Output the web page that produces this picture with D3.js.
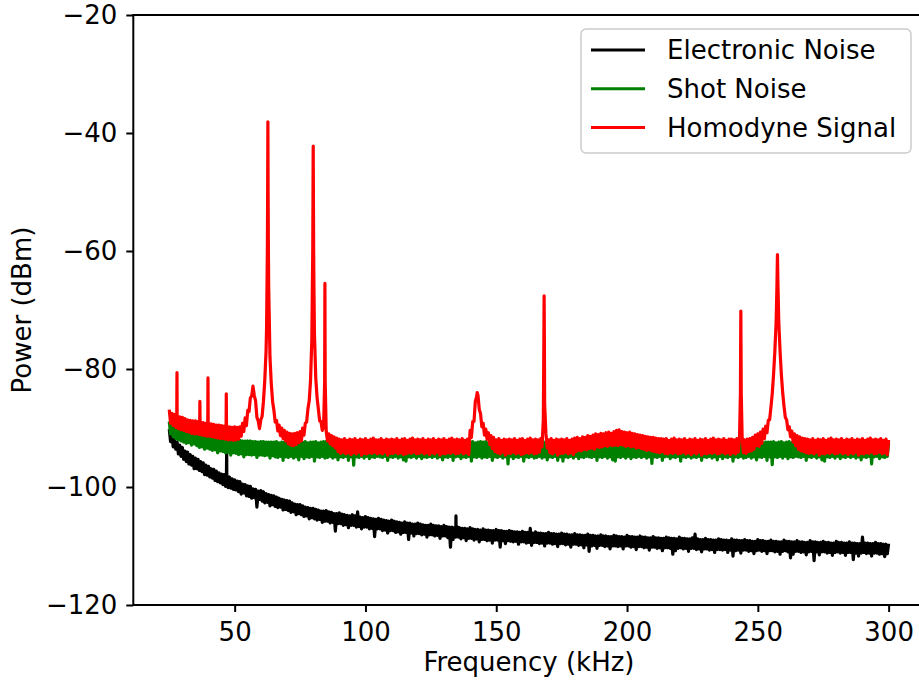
<!DOCTYPE html>
<html>
<head>
<meta charset="utf-8">
<script src="https://cdn.jsdelivr.net/npm/d3@7"></script>
<style>
  body { margin: 0; background: #fff; }
  svg { display: block; }
  text { font-family: "DejaVu Sans", sans-serif; fill: #000; }
</style>
</head>
<body>
<svg id="chart" width="919" height="682"></svg>
<script>
// Spectrum analyser sweep: 25-300 kHz in 0.5 kHz bins, plus extra samples across narrow lines
const freqStart = 25, freqEnd = 300, freqStep = 0.5;
const xTicks = [50, 100, 150, 200, 250, 300];
const yTicks = [-120, -100, -80, -60, -40, -20];
const seriesNames = ["Electronic Noise", "Shot Noise", "Homodyne Signal"];
const seriesColors = ["#000000", "#008000", "#ff0000"];

// dBm per bin, each row covers 5 kHz
const electronic = [
  -90.2, -92.3, -91.0, -93.2, -91.9, -93.6, -92.4, -94.4, -92.9, -94.8,        // 25
  -93.3, -95.3, -93.9, -95.7, -94.1, -96.1, -94.5, -96.3, -94.8, -96.9,        // 30
  -95.1, -96.9, -95.3, -97.2, -95.7, -97.4, -95.9, -97.9, -96.3, -98.0,        // 35
  -96.5, -98.3, -96.9, -98.5, -97.0, -98.9, -97.3, -99.1, -97.6, -99.3,        // 40
  -97.8, -99.6, -97.9, -99.9, -98.2, -100.1, -98.3, -100.2, -98.6, -100.4,     // 45
  -98.8, -100.5, -99.0, -100.8, -99.1, -101.2, -99.5, -101.0, -99.6, -101.5,   // 50
  -99.8, -101.6, -99.9, -101.9, -100.3, -101.8, -100.4, -103.4, -100.7, -102.1, // 55
  -100.6, -102.4, -100.8, -102.7, -101.1, -102.6, -101.3, -103.2, -101.4, -103.0, // 60
  -101.5, -103.3, -101.7, -103.5, -101.9, -103.4, -102.1, -103.9, -102.2, -103.8, // 65
  -102.3, -104.0, -102.4, -104.3, -102.7, -104.2, -102.9, -104.7, -103.0, -104.5, // 70
  -103.0, -104.7, -103.2, -105.0, -103.4, -104.9, -103.5, -105.4, -103.6, -105.2, // 75
  -103.6, -105.4, -103.8, -105.6, -103.9, -105.5, -104.1, -106.0, -104.1, -105.8, // 80
  -104.0, -105.8, -104.2, -106.1, -104.3, -106.0, -104.5, -107.5, -104.5, -106.2, // 85
  -104.4, -106.2, -104.6, -106.5, -104.7, -106.4, -104.8, -106.9, -104.9, -106.5, // 90
  -104.7, -106.5, -104.9, -106.8, -104.2, -106.7, -105.1, -107.1, -105.2, -106.8, // 95
  -105.0, -106.8, -105.2, -107.1, -105.3, -107.0, -105.4, -108.4, -105.5, -107.1, // 100
  -105.3, -107.1, -105.5, -107.4, -105.6, -107.3, -105.7, -107.8, -105.8, -107.4, // 105
  -105.6, -107.4, -105.8, -107.7, -105.9, -107.6, -106.0, -108.0, -106.1, -107.7, // 110
  -105.9, -107.7, -106.1, -108.9, -106.1, -107.8, -106.3, -108.3, -106.3, -107.9, // 115
  -106.1, -107.9, -106.3, -108.1, -106.4, -108.0, -106.5, -108.5, -106.5, -108.1, // 120
  -106.3, -108.1, -106.5, -108.3, -106.6, -108.2, -106.6, -108.7, -106.7, -108.3, // 125
  -106.5, -108.3, -106.7, -108.6, -106.8, -110.2, -106.8, -108.9, -106.9, -108.5, // 130
  -106.7, -108.5, -106.9, -108.8, -107.0, -108.6, -107.0, -109.1, -107.1, -108.7, // 135
  -106.9, -108.7, -107.1, -109.0, -107.2, -108.8, -107.2, -109.3, -107.3, -108.9, // 140
  -107.1, -108.9, -107.3, -109.1, -107.3, -109.0, -107.4, -109.5, -107.4, -109.0, // 145
  -107.2, -109.0, -107.4, -110.2, -107.4, -109.1, -107.5, -109.6, -107.5, -109.1, // 150
  -107.4, -109.2, -107.5, -109.3, -107.6, -109.2, -107.6, -109.7, -107.7, -109.3, // 155
  -107.5, -109.3, -107.7, -109.5, -107.7, -109.4, -107.0, -109.9, -107.8, -109.4, // 160
  -107.6, -109.4, -107.8, -109.6, -107.8, -109.5, -107.9, -110.0, -107.9, -109.5, // 165
  -107.7, -109.5, -107.9, -109.7, -107.9, -109.6, -108.0, -110.1, -108.0, -109.6, // 170
  -107.8, -109.6, -108.0, -109.8, -108.0, -109.7, -108.1, -110.2, -108.1, -109.7, // 175
  -107.9, -109.7, -108.1, -109.9, -108.1, -109.8, -108.2, -110.3, -108.2, -109.8, // 180
  -108.0, -110.9, -108.2, -110.0, -108.2, -109.9, -108.3, -110.4, -108.3, -109.9, // 185
  -108.1, -109.9, -108.3, -110.1, -108.3, -110.0, -108.4, -110.5, -108.4, -110.0, // 190
  -108.2, -110.0, -108.3, -110.1, -108.4, -110.0, -108.4, -110.5, -108.5, -110.0, // 195
  -108.2, -110.0, -108.4, -110.2, -108.4, -110.1, -108.5, -110.6, -108.5, -110.1, // 200
  -108.3, -110.1, -108.5, -110.3, -108.5, -110.2, -108.6, -110.7, -108.6, -110.2, // 205
  -108.4, -110.2, -108.6, -110.4, -108.6, -110.3, -108.7, -110.8, -108.7, -110.3, // 210
  -108.5, -110.3, -108.6, -110.4, -108.7, -111.4, -108.7, -110.8, -108.8, -110.4, // 215
  -108.5, -110.3, -108.7, -110.5, -108.7, -110.4, -108.8, -110.9, -108.8, -110.4, // 220
  -108.6, -110.4, -108.0, -110.6, -108.8, -110.5, -108.9, -111.0, -108.9, -110.5, // 225
  -108.7, -110.5, -108.9, -110.7, -108.9, -110.6, -109.0, -111.1, -109.0, -110.6, // 230
  -108.8, -110.6, -108.9, -110.7, -109.0, -110.6, -109.0, -111.1, -109.1, -110.7, // 235
  -108.8, -111.7, -109.0, -110.8, -109.0, -110.7, -109.1, -111.2, -109.1, -110.7, // 240
  -108.9, -110.7, -109.1, -110.9, -109.1, -110.8, -109.2, -111.3, -109.2, -110.8, // 245
  -108.9, -110.7, -109.1, -110.9, -109.1, -110.8, -109.2, -111.3, -109.2, -110.8, // 250
  -109.0, -110.8, -109.2, -111.0, -109.2, -110.9, -109.3, -111.4, -109.3, -110.9, // 255
  -109.0, -110.8, -109.2, -111.0, -109.2, -112.0, -109.3, -111.4, -109.3, -110.9, // 260
  -109.1, -110.9, -109.3, -111.1, -109.3, -111.0, -109.4, -111.5, -109.4, -111.0, // 265
  -109.1, -110.9, -109.3, -112.5, -109.3, -111.0, -109.4, -111.5, -109.4, -111.0, // 270
  -109.2, -111.0, -109.4, -111.2, -109.4, -111.1, -109.5, -111.6, -109.5, -111.1, // 275
  -109.2, -111.0, -109.4, -111.2, -109.4, -111.1, -109.5, -111.6, -109.5, -111.1, // 280
  -109.3, -111.1, -109.5, -112.3, -109.5, -111.2, -109.6, -111.7, -109.6, -111.2, // 285
  -108.5, -111.1, -109.5, -111.3, -109.5, -111.2, -109.6, -111.7, -109.6, -111.2, // 290
  -109.4, -111.2, -109.6, -111.4, -109.6, -111.3, -109.7, -111.8, -109.7, -111.3, // 295
  -109.6                                                                         // 300
];
// [kHz, dBm] pickup lines in the electronic noise
const electronicLines = [
  [46.85, -98.3], [46.95, -93.3], [47.05, -98.6],
  [134.55, -107.0], [134.6, -104.9], [134.65, -107.2]
];

const shot = [
  -88.9, -91.0, -89.2, -91.5, -89.5, -91.8, -89.8, -92.0, -90.0, -92.2, // 25
  -90.2, -92.4, -90.3, -92.6, -90.5, -92.5, -90.6, -92.9, -90.8, -92.7, // 30
  -90.9, -93.0, -91.0, -93.3, -91.2, -93.2, -91.4, -93.6, -91.5, -93.4, // 35
  -91.3, -93.6, -91.5, -93.8, -91.6, -93.7, -91.7, -94.2, -91.8, -93.9, // 40
  -91.7, -94.0, -91.8, -94.2, -91.9, -94.1, -92.0, -94.6, -92.1, -94.2, // 45
  -92.0, -94.3, -92.1, -94.5, -92.1, -94.4, -92.2, -94.9, -92.2, -94.5, // 50
  -92.2, -94.5, -92.2, -94.6, -92.3, -94.5, -92.3, -95.0, -92.4, -94.6, // 55
  -92.3, -94.6, -92.3, -94.7, -92.4, -94.6, -92.4, -95.1, -92.4, -94.7, // 60
  -92.4, -94.9, -92.3, -95.0, -92.5, -94.8, -92.4, -95.5, -92.4, -94.9, // 65
  -92.3, -95.0, -92.5, -94.8, -92.4, -95.1, -92.3, -94.9, -92.5, -95.4, // 70
  -92.5, -94.8, -92.4, -95.2, -92.3, -94.9, -92.5, -95.0, -92.4, -94.8, // 75
  -92.4, -95.6, -92.3, -94.9, -92.5, -95.0, -92.4, -94.8, -92.3, -95.1, // 80
  -92.3, -95.0, -92.5, -94.8, -92.4, -95.1, -92.3, -94.9, -92.5, -95.4, // 85
  -92.4, -94.9, -92.3, -95.0, -92.5, -94.8, -92.4, -95.5, -92.4, -94.9, // 90
  -92.4, -96.3, -92.3, -94.9, -92.5, -95.0, -92.4, -94.8, -92.3, -95.1, // 95
  -92.5, -94.8, -92.4, -95.2, -92.3, -94.9, -92.5, -95.0, -92.4, -94.8, // 100
  -92.4, -94.9, -92.3, -95.0, -92.5, -94.8, -92.4, -95.5, -92.4, -94.9, // 105
  -92.3, -95.0, -92.5, -94.8, -92.4, -95.1, -92.3, -94.9, -92.5, -95.4, // 110
  -92.4, -95.6, -92.3, -94.9, -92.5, -95.0, -92.4, -94.8, -92.3, -95.1, // 115
  -92.5, -94.8, -92.4, -95.2, -92.3, -94.9, -92.5, -95.0, -92.4, -94.8, // 120
  -92.3, -95.0, -92.5, -94.8, -92.4, -95.1, -92.3, -94.9, -92.5, -95.4, // 125
  -92.4, -94.9, -92.3, -95.0, -92.5, -94.8, -92.4, -95.5, -92.4, -94.9, // 130
  -92.5, -94.8, -92.4, -95.2, -92.3, -94.9, -92.5, -95.0, -92.4, -94.8, // 135
  -92.4, -95.6, -92.3, -94.9, -92.5, -95.0, -92.4, -94.8, -92.3, -95.1, // 140
  -92.4, -94.9, -92.3, -95.0, -92.5, -94.8, -92.4, -95.5, -92.4, -94.9, // 145
  -92.3, -95.0, -92.5, -94.8, -92.4, -95.1, -92.3, -94.9, -92.5, -96.1, // 150
  -92.5, -94.8, -92.4, -95.2, -92.3, -94.9, -92.5, -95.0, -92.4, -94.8, // 155
  -92.4, -95.6, -92.3, -94.9, -92.5, -95.0, -92.4, -94.8, -92.3, -95.1, // 160
  -92.3, -95.0, -92.5, -94.8, -92.4, -95.1, -92.3, -94.9, -92.5, -95.4, // 165
  -92.4, -94.9, -92.3, -95.0, -92.5, -94.8, -92.4, -95.5, -92.4, -94.9, // 170
  -92.4, -95.6, -92.3, -94.9, -92.5, -95.0, -92.4, -94.8, -92.3, -95.1, // 175
  -92.5, -94.8, -92.4, -95.2, -92.3, -94.9, -92.5, -95.0, -92.4, -94.8, // 180
  -92.4, -94.9, -92.3, -95.0, -92.5, -94.8, -92.4, -95.5, -92.4, -94.9, // 185
  -92.3, -95.0, -92.5, -94.8, -92.4, -95.1, -92.3, -94.9, -92.5, -95.4, // 190
  -92.4, -95.6, -92.3, -94.9, -92.5, -95.0, -92.4, -94.8, -92.3, -95.1, // 195
  -92.5, -94.8, -92.4, -95.2, -92.3, -94.9, -92.5, -95.0, -92.4, -94.8, // 200
  -92.3, -95.0, -92.5, -94.8, -92.4, -95.1, -92.3, -94.9, -92.5, -96.0, // 205
  -92.4, -94.9, -92.3, -95.0, -92.5, -94.8, -92.4, -95.5, -92.4, -94.9, // 210
  -92.5, -94.8, -92.4, -95.2, -92.3, -94.9, -92.5, -95.0, -92.4, -94.8, // 215
  -92.4, -95.6, -92.3, -94.9, -92.5, -95.0, -92.4, -94.8, -92.3, -95.1, // 220
  -92.4, -94.9, -92.3, -95.0, -92.5, -94.8, -92.4, -95.5, -92.4, -94.9, // 225
  -92.3, -95.0, -92.5, -94.8, -92.4, -95.1, -92.3, -94.9, -92.5, -95.4, // 230
  -92.5, -94.8, -92.4, -95.2, -92.3, -94.9, -92.5, -95.0, -92.4, -94.8, // 235
  -92.4, -95.6, -92.3, -94.9, -92.5, -95.0, -92.4, -94.8, -92.3, -95.1, // 240
  -92.3, -95.0, -92.5, -94.8, -92.4, -95.1, -92.3, -94.9, -92.5, -95.4, // 245
  -92.4, -94.9, -92.3, -95.0, -92.5, -94.8, -92.4, -95.5, -92.4, -94.9, // 250
  -92.4, -96.2, -92.3, -94.9, -92.5, -95.0, -92.4, -94.8, -92.3, -95.1, // 255
  -92.5, -94.8, -92.4, -95.2, -92.3, -94.9, -92.5, -95.0, -92.4, -94.8, // 260
  -92.4, -94.9, -92.3, -95.0, -92.5, -94.8, -92.4, -95.5, -92.4, -94.9, // 265
  -92.3, -95.0, -92.5, -94.8, -92.4, -95.1, -92.3, -94.9, -92.5, -95.4, // 270
  -92.4, -95.6, -92.3, -94.9, -92.5, -95.0, -92.4, -94.8, -92.3, -95.1, // 275
  -92.5, -94.8, -92.4, -95.2, -92.3, -94.9, -92.5, -95.0, -92.4, -94.8, // 280
  -92.3, -95.0, -92.5, -94.8, -92.4, -95.1, -92.3, -94.9, -92.5, -95.4, // 285
  -92.4, -94.9, -92.3, -95.0, -92.5, -94.8, -92.4, -96.1, -92.4, -94.9, // 290
  -92.5, -94.8, -92.4, -95.2, -92.3, -94.9, -92.5, -95.0, -92.4, -94.8, // 295
  -92.5                                                                 // 300
];

const homodyne = [
  -86.9, -89.2, -87.5, -89.6, -87.7, -89.9, -87.9, -90.1, -88.1, -90.3, // 25
  -88.2, -90.4, -88.4, -90.6, -88.6, -90.7, -88.7, -90.9, -88.8, -91.0, // 30
  -88.8, -91.0, -88.9, -91.1, -89.0, -91.2, -89.1, -91.3, -89.2, -91.4, // 35
  -89.2, -91.4, -89.3, -91.5, -89.4, -91.6, -89.5, -91.7, -89.5, -91.8, // 40
  -89.6, -91.8, -89.7, -91.9, -89.7, -92.0, -89.8, -92.0, -89.9, -92.1, // 45
  -89.8, -92.0, -89.9, -91.9, -89.8, -91.4, -89.2, -90.6, -88.3, -89.6, // 50
  -87.0, -87.2, -84.9, -84.6, -82.9, -84.5, -85.4, -88.2, -88.8, -90.1, // 55
  -88.6, -88.0, -85.5, -82.0, -77.0, -60.0, -66.0, -78.0, -82.5, -85.5, // 60
  -87.0, -89.0, -88.7, -90.5, -89.5, -91.3, -90.0, -91.8, -90.4, -92.2, // 65
  -90.7, -92.7, -90.9, -92.9, -91.0, -93.0, -90.9, -92.8, -90.8, -92.5, // 70
  -90.6, -92.2, -90.0, -91.2, -89.2, -89.0, -86.8, -85.4, -82.0, -75.0, // 75
  -44.0, -74.0, -81.5, -84.8, -86.8, -88.8, -88.9, -90.4, -89.9, -65.5, // 80
  -90.6, -92.2, -91.0, -92.7, -91.3, -93.0, -91.5, -93.4, -91.7, -94.0, // 85
  -91.9, -94.3, -92.0, -94.1, -91.8, -94.4, -92.1, -94.2, -91.9, -94.5, // 90
  -92.0, -94.2, -91.8, -94.4, -92.1, -94.1, -91.9, -94.6, -92.0, -94.3, // 95
  -91.8, -94.4, -92.1, -94.2, -91.9, -94.3, -91.7, -94.1, -92.0, -94.4, // 100
  -92.0, -94.2, -91.8, -94.4, -92.1, -94.1, -91.9, -94.6, -92.0, -94.3, // 105
  -91.9, -94.3, -92.0, -94.1, -91.8, -94.4, -92.1, -94.2, -91.9, -94.5, // 110
  -91.8, -94.4, -92.1, -94.2, -91.9, -94.3, -91.7, -94.1, -92.0, -94.4, // 115
  -91.9, -94.3, -92.0, -94.1, -91.8, -94.4, -92.1, -94.2, -91.9, -94.5, // 120
  -92.0, -94.2, -91.8, -94.4, -92.1, -94.1, -91.9, -94.6, -92.0, -94.3, // 125
  -91.8, -94.4, -92.1, -94.2, -91.9, -94.3, -91.7, -94.1, -92.0, -94.4, // 130
  -91.9, -94.3, -92.0, -94.1, -91.8, -94.4, -92.1, -94.2, -91.9, -94.5, // 135
  -90.4, -91.6, -88.9, -88.9, -85.5, -84.7, -84.4, -86.8, -87.6, -89.8, // 140
  -89.2, -91.2, -90.2, -91.9, -90.8, -92.8, -91.3, -93.5, -91.6, -94.0, // 145
  -92.0, -94.2, -91.8, -94.4, -92.1, -94.1, -91.9, -94.6, -92.0, -94.3, // 150
  -91.9, -94.3, -92.0, -94.1, -91.8, -94.4, -92.1, -94.2, -91.9, -94.5, // 155
  -91.8, -94.4, -92.1, -94.2, -91.9, -94.3, -91.7, -94.1, -92.0, -94.4, // 160
  -91.9, -94.3, -92.0, -94.1, -91.8, -93.2, -88.5, -86.0, -91.0, -93.4, // 165
  -92.0, -94.2, -91.8, -94.4, -92.1, -94.1, -91.9, -94.6, -92.0, -94.3, // 170
  -91.9, -94.3, -92.0, -94.1, -91.8, -94.4, -92.1, -94.2, -91.9, -94.5, // 175
  -91.7, -94.0, -91.6, -93.8, -91.8, -93.9, -91.5, -93.6, -91.6, -93.7, // 180
  -91.3, -93.5, -91.4, -93.4, -91.2, -93.6, -91.0, -93.2, -91.1, -93.3, // 185
  -90.9, -93.2, -91.0, -93.0, -90.8, -93.1, -90.7, -92.9, -90.9, -93.0, // 190
  -90.6, -92.9, -90.4, -93.0, -90.3, -92.8, -90.6, -92.9, -90.7, -93.1, // 195
  -90.8, -93.0, -90.7, -93.2, -90.9, -93.1, -91.0, -93.4, -91.1, -93.3, // 200
  -91.2, -93.5, -91.3, -93.6, -91.4, -93.8, -91.5, -93.7, -91.6, -93.9, // 205
  -91.6, -94.0, -91.7, -94.1, -91.8, -94.2, -91.8, -94.0, -91.9, -94.3, // 210
  -91.8, -94.4, -92.1, -94.2, -91.9, -94.3, -91.7, -94.1, -92.0, -94.4, // 215
  -91.9, -94.3, -92.0, -94.1, -91.8, -94.4, -92.1, -94.2, -91.9, -94.5, // 220
  -92.0, -94.2, -91.8, -94.4, -92.1, -94.1, -91.9, -94.6, -92.0, -94.3, // 225
  -91.8, -94.4, -92.1, -94.2, -91.9, -94.3, -91.7, -94.1, -92.0, -94.4, // 230
  -91.9, -94.3, -92.0, -94.1, -91.8, -94.4, -92.1, -94.2, -91.9, -94.5, // 235
  -91.9, -94.2, -92.0, -94.4, -91.8, -94.1, -91.5, -70.2, -91.6, -94.2, // 240
  -92.0, -94.3, -91.9, -94.0, -91.8, -93.9, -91.6, -93.6, -91.2, -93.0, // 245
  -91.0, -93.1, -90.7, -92.6, -90.2, -91.8, -89.7, -90.8, -88.7, -88.6, // 250
  -86.5, -84.2, -81.0, -77.0, -72.0, -60.6, -72.0, -77.0, -81.0, -84.0, // 255
  -86.3, -88.2, -88.6, -90.3, -89.8, -91.5, -90.5, -92.4, -91.0, -93.0, // 260
  -91.3, -93.6, -91.5, -93.9, -91.7, -94.0, -91.8, -94.2, -91.9, -94.3, // 265
  -92.0, -94.2, -91.8, -94.4, -92.1, -94.1, -91.9, -94.6, -92.0, -94.3, // 270
  -91.8, -94.4, -92.1, -94.2, -91.9, -94.3, -91.7, -94.1, -92.0, -94.4, // 275
  -91.9, -94.3, -92.0, -94.1, -91.8, -94.4, -92.1, -94.2, -91.9, -94.5, // 280
  -92.0, -94.2, -91.8, -94.4, -92.1, -94.1, -91.9, -94.6, -92.0, -94.3, // 285
  -91.8, -94.4, -92.1, -94.2, -91.9, -94.3, -91.7, -94.1, -92.0, -94.4, // 290
  -91.9, -94.3, -92.0, -94.1, -91.8, -94.4, -92.1, -94.2, -91.9, -94.5, // 295
  -92.0                                                                 // 300
];
// [kHz, dBm] finely sampled points across the narrow signal lines
const homodyneLines = [
  [27.85, -89.0], [27.95, -80.6], [28.05, -88.5],
  [36.6, -90.6], [36.7, -85.5], [36.8, -90.0],
  [39.7, -90.8], [39.8, -81.5], [39.9, -90.2],
  [46.7, -91.0], [46.8, -84.2], [46.9, -90.4],
  [62.2, -73.0], [62.6, -51.0], [62.7, -38.1], [62.8, -51.0], [62.9, -60.0],
  [79.85, -60.0], [79.95, -50.0], [80.03, -42.2], [80.1, -50.0], [80.2, -60.0], [80.3, -66.0],
  [84.4, -82.0], [84.6, -82.0],
  [142.7, -84.0],
  [168.1, -82.0], [168.2, -75.0], [168.3, -67.6], [168.4, -75.0],
  [243.35, -84.0], [243.42, -77.0], [243.58, -77.0], [243.65, -84.0],
  [257.3, -66.0], [257.7, -66.0]
];

const freqs = d3.range(freqStart, freqEnd + freqStep / 2, freqStep);
function trace(grid, extra) {
  return freqs.map((f, i) => [f, grid[i]]).concat(extra).sort((a, b) => a[0] - b[0]);
}
const traces = [
  trace(electronic, electronicLines),
  trace(shot, []),
  trace(homodyne, homodyneLines)
];

const plot = { left: 133.3, right: 924.6, top: 15, bottom: 605 };

const svg = d3.select("#chart");
const x = d3.scaleLinear().domain([11.25, 313.75]).range([plot.left, plot.right]);
const y = d3.scaleLinear().domain([-120, -20]).range([plot.bottom, plot.top]);

const line = d3.line().x(d => x(d[0])).y(d => y(d[1]));

svg.append("defs").append("clipPath").attr("id", "plotclip")
  .append("rect").attr("x", plot.left).attr("y", plot.top)
  .attr("width", plot.right - plot.left).attr("height", plot.bottom - plot.top);

const traceG = svg.append("g").attr("clip-path", "url(#plotclip)");
traces.forEach((t, i) => {
  traceG.append("path")
    .datum(t)
    .attr("d", line)
    .attr("fill", "none")
    .attr("stroke", seriesColors[i])
    .attr("stroke-width", 3.2)
    .attr("stroke-linejoin", "round");
});

// axes
const xAxis = d3.axisBottom(x).tickValues(xTicks).tickSize(7).tickPadding(11).tickFormat(d3.format("d"));
const yAxis = d3.axisLeft(y).tickValues(yTicks).tickSize(7).tickPadding(9)
  .tickFormat(d => (d < 0 ? "\u2212" + Math.abs(d) : String(d)));

const gx = svg.append("g").attr("transform", `translate(0,${plot.bottom})`).call(xAxis);
const gy = svg.append("g").attr("transform", `translate(${plot.left},0)`).call(yAxis);
[gx, gy].forEach(g => {
  g.select(".domain").remove();
  g.selectAll(".tick line").attr("stroke", "#000").attr("stroke-width", 2);
  g.selectAll(".tick text").attr("font-size", 26).attr("font-family", "DejaVu Sans, sans-serif").attr("fill", "#000");
});

// frame
svg.append("rect")
  .attr("x", plot.left).attr("y", plot.top)
  .attr("width", plot.right - plot.left).attr("height", plot.bottom - plot.top)
  .attr("fill", "none").attr("stroke", "#000").attr("stroke-width", 2);

// axis titles
svg.append("text")
  .attr("x", (plot.left + plot.right) / 2).attr("y", 671)
  .attr("text-anchor", "middle").attr("font-size", 26)
  .text("Frequency (kHz)");
svg.append("text")
  .attr("transform", `translate(31,${(plot.top + plot.bottom) / 2}) rotate(-90)`)
  .attr("text-anchor", "middle").attr("font-size", 26)
  .text("Power (dBm)");

// legend
const lg = svg.append("g");
lg.append("rect")
  .attr("x", 581).attr("y", 29).attr("width", 330).attr("height", 124).attr("rx", 5)
  .attr("fill", "#fff").attr("fill-opacity", 0.8)
  .attr("stroke", "#cccccc").attr("stroke-width", 1.5);
seriesNames.forEach((name, i) => {
  const ly = 50 + i * 38.8;
  lg.append("line").attr("x1", 591).attr("x2", 645).attr("y1", ly).attr("y2", ly)
    .attr("stroke", seriesColors[i]).attr("stroke-width", 3);
  lg.append("text").attr("x", 667).attr("y", ly).attr("dy", "0.36em")
    .attr("font-size", 26).text(name);
});
</script>
</body>
</html>
